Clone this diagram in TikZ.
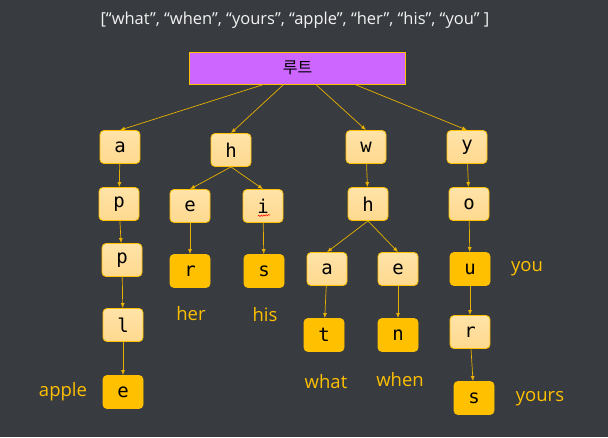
\documentclass[tikz,border=0pt]{standalone}
\usepackage{fontspec}
\setmainfont{Open Sans}
\setmonofont{DejaVu Sans Mono}
\newfontfamily\krfont{Noto Sans CJK KR}
\usetikzlibrary{arrows.meta,decorations.pathmorphing}
\definecolor{bg}{HTML}{383C40}
\definecolor{gold}{HTML}{FFC000}
\definecolor{edgegold}{HTML}{E8B000}
\definecolor{paletop}{HTML}{FFE3A8}
\definecolor{palebot}{HTML}{FFD98F}
\definecolor{rootfill}{HTML}{CC66FF}
\tikzset{
  cell/.style={draw=gold, line width=0.8pt, rounded corners=4pt,
    minimum width=40pt, minimum height=33pt, inner sep=0pt,
    font=\ttfamily\fontsize{19}{19}\selectfont},
  trie/.style={cell, top color=paletop, bottom color=palebot},
  leaf/.style={cell, fill=gold},
  word/.style={text=gold, font=\fontsize{18.5}{18.5}\selectfont},
  link/.style={draw=edgegold, line width=0.7pt,
    -{Latex[length=5pt,width=4pt]}}
}
\begin{document}
\begin{tikzpicture}[x=1pt,y=-1pt]
      \fill[bg] (0,0) rectangle (608,437);
      \useasboundingbox (0,0) rectangle (608,437);
      \node (title) at (295,20)
        [text=white!90!gray, font=\fontsize{16.5}{18}\selectfont]
        {[“what”, “when”, “yours”, “apple”, “her”, “his”, “you” ]};
      \node (root) at (297.5,68) [draw=gold, line width=0.8pt, fill=rootfill,
        minimum width=216pt, minimum height=32pt, font=\krfont\fontsize{16}{16}\selectfont] {루트};
      % apple
      \node[trie] (a) at (120,147) {a};
      \node[trie] (p1) at (119,204) {p};
      \node[trie] (p2) at (122,260) {p};
      \node[trie] (l) at (123,325) {l};
      \node[leaf] (e1) at (123,392) {e};
      % her, his
      \node[trie] (h1) at (231,150) {h};
      \node[trie] (e2) at (190,206) {e};
      \node[trie] (i) at (263,206) {i};
      \node[leaf] (r1) at (190,271) {r};
      \node[leaf] (s1) at (264,271) {s};
      % what, when
      \node[trie] (w) at (366,147) {w};
      \node[trie] (h2) at (368,204) {h};
      \node[trie] (a2) at (327,269) {a};
      \node[trie] (e3) at (398,269) {e};
      \node[leaf] (t) at (324,335) {t};
      \node[leaf] (n) at (398,335) {n};
      % you, yours
      \node[trie] (y) at (467,147) {y};
      \node[trie] (o) at (469,204) {o};
      \node[leaf] (u) at (470,269) {u};
      \node[trie] (r2) at (470,332) {r};
      \node[leaf] (s2) at (474,398) {s};
      % words
      \node[word] (apple) at (63,392) {apple};
      \node[word] (her) at (191,314) {her};
      \node[word] (his) at (265,315) {his};
      \node[word] (what) at (326,382) {what};
      \node[word] (when) at (400,380) {when};
      \node[word] (you) at (527,269) {you};
      \node[word] (yours) at (540,399) {yours};
      \draw[red, line width=0.5pt, decorate,
        decoration={snake, amplitude=0.7pt, segment length=2.5pt}]
        ([xshift=-5pt,yshift=-1pt]i.center |- 0,215) -- ([xshift=7pt]i.center |- 0,215);
      \begin{scope}[link]
        \draw (root.206) to (a.north);
        \draw (root.230) to (h1.north);
        \draw (root.318) to (w.north);
        \draw (root.344) to (y.north);
        \draw (a) to (p1);
        \draw (p1) to (p2);
        \draw (p2) to (l);
        \draw (l) to (e1);
        \draw (h1.south) to (e2.north);
        \draw (h1.south) to (i.north);
        \draw (e2) to (r1);
        \draw (i) to (s1);
        \draw (w) to (h2);
        \draw (h2.south) to (a2.north);
        \draw (h2.south) to (e3.north);
        \draw (a2) to (t);
        \draw (e3) to (n);
        \draw (y) to (o);
        \draw (o) to (u);
        \draw (u) to (r2);
        \draw (r2) to (s2);
      \end{scope}
    \end{tikzpicture}
\end{document}
